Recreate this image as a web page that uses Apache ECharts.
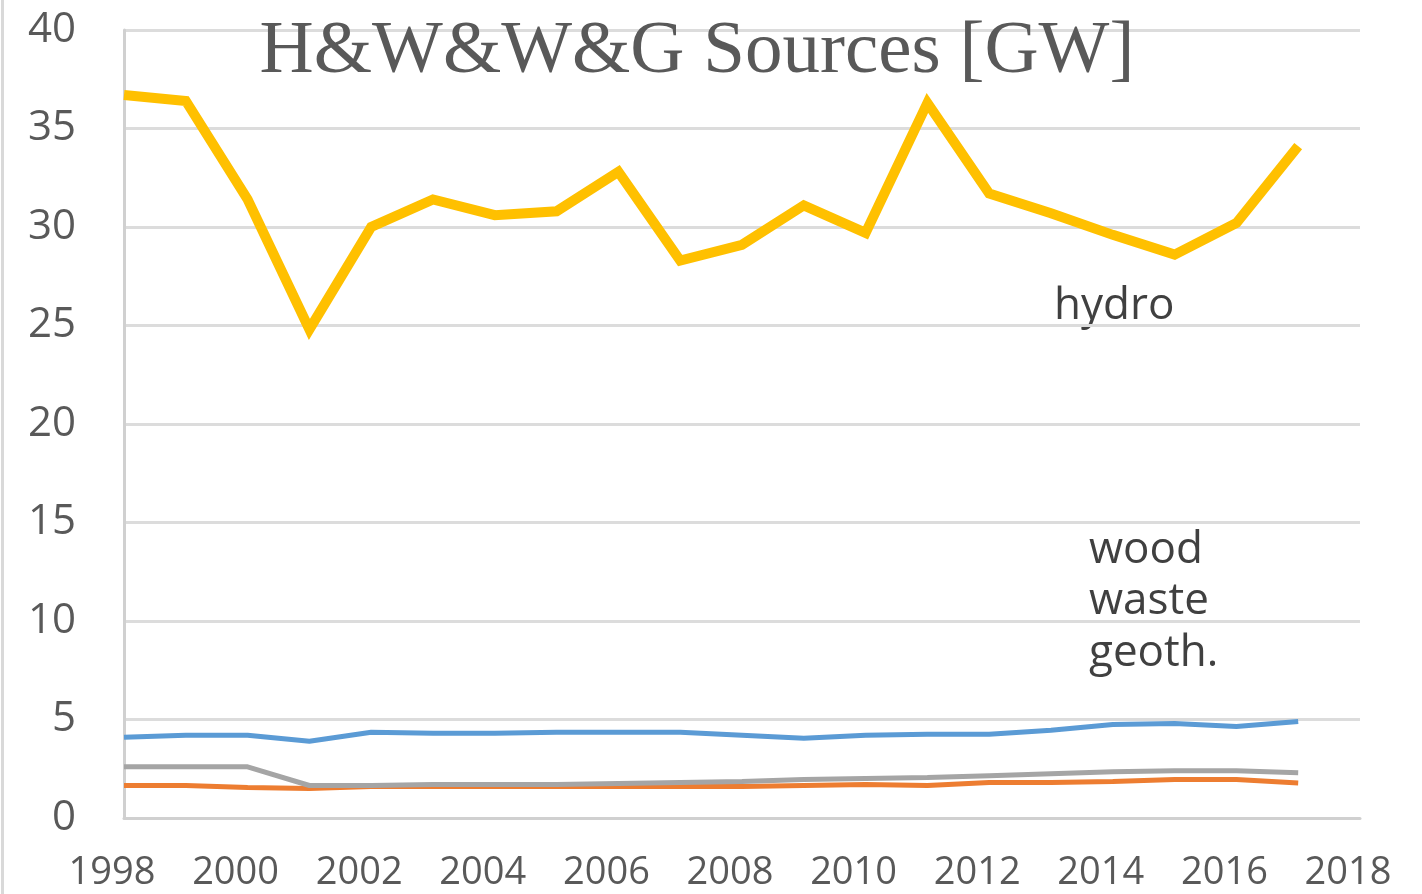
<!DOCTYPE html>
<html>
<head>
<meta charset="utf-8">
<script src="https://cdn.jsdelivr.net/npm/echarts@6/dist/echarts.min.js"></script>
<style>html,body{margin:0;padding:0;background:#fff}#c{width:1422px;height:894px}</style>
</head>
<body>
<div id="c"></div>
<script>
const years = [1998,1999,2000,2001,2002,2003,2004,2005,2006,2007,2008,2009,2010,2011,2012,2013,2014,2015,2016,2017];
const hydro = [36.7,36.4,31.4,24.8,30.0,31.4,30.6,30.8,32.8,28.3,29.1,31.1,29.7,36.3,31.7,30.7,29.6,28.6,30.2,34.1];
const wood  = [4.1,4.2,4.2,3.9,4.35,4.3,4.3,4.35,4.35,4.35,4.2,4.05,4.2,4.25,4.25,4.45,4.75,4.8,4.65,4.9];
const geoth = [2.6,2.6,2.6,1.65,1.65,1.7,1.7,1.7,1.75,1.8,1.85,1.95,2.0,2.05,2.15,2.25,2.35,2.4,2.4,2.3];
const waste = [1.65,1.65,1.55,1.5,1.6,1.6,1.6,1.6,1.6,1.6,1.6,1.65,1.7,1.65,1.8,1.8,1.85,1.95,1.95,1.78];
const yTicks = {min:0, max:40, step:5};
const xTicks = {min:1998, max:2018, step:2};
const titleText = 'H&W&W&G Sources [GW]';
const labels = ['hydro','wood','waste','geoth.'];

const pair = arr => years.map((y,i)=>[y,arr[i]]);
const chart = echarts.init(document.getElementById('c'));
const sans = 'Open Sans';
chart.setOption({
  animation:false,
  backgroundColor:'#fff',
  grid:{left:124,right:62,top:30,bottom:76},
  xAxis:{type:'value',min:xTicks.min,max:xTicks.max,interval:xTicks.step,
    axisLine:{show:true,lineStyle:{color:'#d0d0d0',width:3}},
    axisTick:{show:false},splitLine:{show:false},
    axisLabel:{color:'#595959',fontSize:38,fontFamily:sans,margin:36,padding:[0,24,0,0],formatter:v=>String(v)}},
  yAxis:{type:'value',min:yTicks.min,max:yTicks.max,interval:yTicks.step,
    axisLine:{show:true,lineStyle:{color:'#d0d0d0',width:3}},
    axisTick:{show:false},
    splitLine:{lineStyle:{color:'#dcdcdc',width:3}},
    axisLabel:{color:'#595959',fontSize:42,fontFamily:sans,margin:48}},
  series:[
    {name:'waste',type:'line',data:pair(waste),symbol:'none',lineStyle:{color:'#ED7D31',width:5},z:2},
    {name:'geoth.',type:'line',data:pair(geoth),symbol:'none',lineStyle:{color:'#A5A5A5',width:5},z:3},
    {name:'wood',type:'line',data:pair(wood),symbol:'none',lineStyle:{color:'#5B9BD5',width:5},z:4},
    {name:'hydro',type:'line',data:pair(hydro),symbol:'none',lineStyle:{color:'#FFC000',width:10,join:'miter'},z:5}
  ],
  graphic:[
    {type:'rect',shape:{x:1,y:0,width:3,height:894},style:{fill:'#d9d9d9'},silent:true},
    {type:'text',x:697,y:90,style:{text:titleText,font:'75px "Liberation Serif"',fill:'#595959',textAlign:'center',textVerticalAlign:'bottom'},z:10},
    {type:'text',x:1054,y:306,style:{text:labels[0],font:'44px "Open Sans"',fill:'#404040',textVerticalAlign:'middle'}},
    {type:'text',x:1089,y:550,style:{text:labels[1],font:'44px "Open Sans"',fill:'#404040',textVerticalAlign:'middle'}},
    {type:'text',x:1089,y:601,style:{text:labels[2],font:'44px "Open Sans"',fill:'#404040',textVerticalAlign:'middle'}},
    {type:'text',x:1089,y:653,style:{text:labels[3],font:'44px "Open Sans"',fill:'#404040',textVerticalAlign:'middle'}}
  ]
});
</script>
</body>
</html>
